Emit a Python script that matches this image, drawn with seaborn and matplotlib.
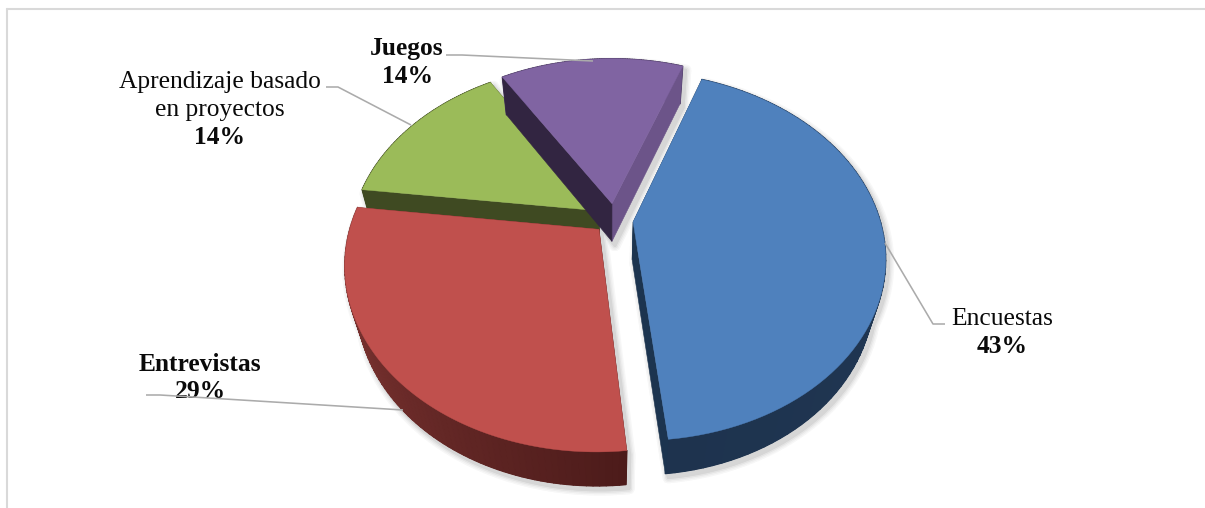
import numpy as np
import matplotlib
matplotlib.use("Agg")
import matplotlib.pyplot as plt
from matplotlib.patches import Polygon
from matplotlib.colors import to_rgb
import seaborn as sns

# ---- data ----
categories = ["Encuestas", "Entrevistas", "Aprendizaje basado\nen proyectos", "Juegos"]
values = [3, 2, 1, 1]
explode = [0.09, 0.067, 0.07, 0.10]
top_colors = ["#4F81BD", "#C0504D", "#9BBB59", "#8064A2"]
rim_start = ["#1E334E", "#8C3C39", "#3F4A22", "#4A3A60"]
rim_end = ["#213A58", "#4C1B1A", "#3F4A22", "#4A3A60"]
cut_first = ["#1C344F", "#6C2A28", "#3F4A22", "#6C5489"]
cut_second = ["#1C344F", "#4C1B1A", "#3F4A22", "#322541"]
draw_order = [2, 3, 0, 1]
nudge_x = [0.0, 0.0, 0.010, 0.014]
nudge_y = [0.006, 0.0, 0.020, 0.0]

# ---- projection parameters ----
CX, CY = 611.0, 221.0
F, D = 865.0, 3.5
TILT_Y, DEPTH_Y = 622.0, 0.65
THICK = 0.228
ZC, ZS = 0.70, 0.70

sns.set_theme(style="white")
plt.rcParams["font.family"] = ["Liberation Serif", "DejaVu Serif"]
sns.set_palette(top_colors)

fig = plt.figure(figsize=(12.05, 5.08), dpi=100, facecolor="white")
ax = fig.add_axes([0, 0, 1, 1])
wedges, _ = ax.pie(values, explode=explode, startangle=70, counterclock=False,
                   colors=sns.color_palette(), radius=1.0)
geometry = [((w.center[0] + nudge_x[i], w.center[1] + nudge_y[i]), w.r, w.theta1, w.theta2)
            for i, w in enumerate(wedges)]
for w in wedges:
    w.remove()
ax.set_aspect("auto")
ax.set_xlim(0, 1205)
ax.set_ylim(508, 0)
ax.axis("off")


def project(x, y, t=0.0):
    x, y = np.asarray(x, float), np.asarray(y, float)
    depth = D + y * DEPTH_Y + t * THICK * ZS
    X = CX + F * x / depth
    Y = CY - (TILT_Y * y - F * t * THICK * ZC) / depth
    return np.column_stack([X, Y])


def arc(center, r, th1, th2, n=80):
    a = np.radians(np.linspace(th1, th2, n))
    return center[0] + r * np.cos(a), center[1] + r * np.sin(a)


def mix(c1, c2, f):
    a, b = np.array(to_rgb(c1)), np.array(to_rgb(c2))
    return tuple(a + (b - a) * f)


def poly(pts, color, z, lw=0.4):
    ax.add_patch(Polygon(pts, closed=True, facecolor=color, edgecolor=color,
                         linewidth=lw, zorder=z, joinstyle="round"))


# soft shadow below every slice
shadow_steps = [(8, "#F7F7F7"), (6, "#EFEFEF"), (4, "#E4E4E4"), (2, "#D6D6D6")]
for lw, col in shadow_steps:
    for (c, r, t1, t2) in geometry:
        ax_, ay_ = arc(c, r, t1, t2)
        x = np.r_[c[0], ax_]
        y = np.r_[c[1], ay_]
        p0 = project(x, y, 0) + [3, 4]
        p1 = project(x, y, 1) + [3, 4]
        poly(p1, col, 1, lw=lw)
        poly(np.vstack([p0[:2], p1[1::-1]]), col, 1, lw=lw)
        poly(np.vstack([p0[[0, -1]], p1[[-1, 0]]]), col, 1, lw=lw)
        poly(np.vstack([p0[1:], p1[:0:-1]]), col, 1, lw=lw)

for rank, i in enumerate(draw_order):
    c, r, t1, t2 = geometry[i]
    z = 2 + rank
    ax_, ay_ = arc(c, r, t1, t2)
    # outer rim: a solid band, then strips shaded along the arc
    poly(np.vstack([project(ax_, ay_, 0), project(ax_, ay_, 1)[::-1]]), rim_end[i], z)
    n = len(ax_) - 1
    for k in range(n):
        xs, ys = ax_[k:k + 2], ay_[k:k + 2]
        col = mix(rim_start[i], rim_end[i], k / n)
        poly(np.vstack([project(xs, ys, 0), project(xs, ys, 1)[::-1]]), col, z, lw=1.0)
    # the two flat cut faces
    for (ex, ey, col) in [(ax_[0], ay_[0], cut_first[i]), (ax_[-1], ay_[-1], cut_second[i])]:
        xs, ys = np.array([c[0], ex]), np.array([c[1], ey])
        poly(np.vstack([project(xs, ys, 0), project(xs, ys, 1)[::-1]]), col, z)
    # top face
    poly(project(np.r_[c[0], ax_], np.r_[c[1], ay_], 0), top_colors[i], z, lw=0.3)

# leader lines
leaders = [
    ([446, 462, 593], [55, 55, 61]),
    ([326, 338, 411], [87, 87, 125]),
    ([945, 933, 885], [324, 324, 243]),
    ([146, 160, 403], [395, 395, 410]),
]
for lx, ly in leaders:
    ax.plot(lx, ly, color="#ABABAB", lw=1.15, zorder=12, solid_capstyle="butt")

# labels
FS = 18.4
total = sum(values)
pct = [f"{round(100 * v / total)}%" for v in values]
label_text = [
    (1002, 325, categories[0], "normal"), (1002, 353, pct[0], "bold"),
    (200, 371, categories[1], "bold"), (200, 398, pct[1], "bold"),
    (220, 88, "Aprendizaje basado", "normal"), (220, 116, "en proyectos", "normal"),
    (220, 144, pct[2], "bold"),
    (407, 55, categories[3], "bold"), (407, 83, pct[3], "bold"),
]
for x, y, s, wgt in label_text:
    ax.text(x, y, s, ha="center", va="baseline", fontsize=FS, fontweight=wgt,
            color="#0A0A0A", zorder=11)

# chart frame
ax.plot([7, 7], [508, 9], color="#D9D9D9", lw=1.5, zorder=0)
ax.plot([7, 1205], [9, 9], color="#D9D9D9", lw=1.5, zorder=0)

fig.savefig("out.png", dpi=100)
